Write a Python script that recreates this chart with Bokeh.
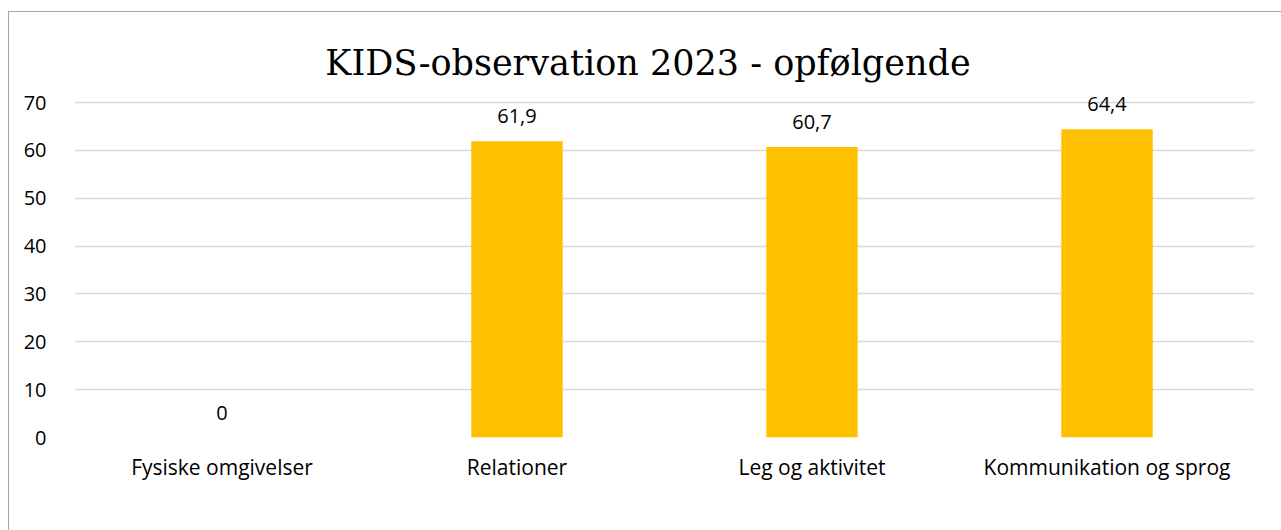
from bokeh.plotting import figure
from bokeh.models import ColumnDataSource, LabelSet, Label, Range1d
from bokeh.core.properties import value
from bokeh.embed import file_html
from bokeh.resources import INLINE

title_text = "KIDS-observation 2023 - opfølgende"
categories = ["Fysiske omgivelser", "Relationer", "Leg og aktivitet", "Kommunikation og sprog"]
values = [0, 61.9, 60.7, 64.4]
value_labels = ["0", "61,9", "60,7", "64,4"]
y_ticks = [0, 10, 20, 30, 40, 50, 60, 70]

source = ColumnDataSource(data=dict(cat=categories, val=values, lab=value_labels))

# frame: 421 px tall, 70 units = 335 px -> extend range so labels/title fit inside
y_top = 421 * 70 / 335

p = figure(
    x_range=categories,
    y_range=Range1d(0, y_top),
    width=1273,
    height=519,
    output_backend="svg",
    toolbar_location=None,
    min_border_left=65,
    min_border_right=28,
    min_border_top=4,
    min_border_bottom=94,
    margin=(11, 0, 0, 8),
)
p.styles = {"border-top": "1px solid #a6a6a6", "border-left": "1px solid #a6a6a6"}

p.vbar(x="cat", top="val", width=0.31, source=source, fill_color="#FFC000", line_color=None)

labels = LabelSet(x="cat", y="val", text="lab", source=source, y_offset=25,
                  text_align="center", text_baseline="middle",
                  text_font=value("Open Sans"), text_font_size=value("20px"), text_color="#000000")
p.add_layout(labels)

title = Label(x=1.944, y=78.15, text=title_text, text_align="center", text_baseline="middle",
              text_font="DejaVu Serif", text_font_size="35px", text_color="#000000")
p.add_layout(title)

p.outline_line_color = None
p.xgrid.grid_line_color = None
p.ygrid.grid_line_color = "#d9d9d9"
p.ygrid.grid_line_width = 1.5
p.yaxis.ticker = y_ticks
for ax in (p.xaxis[0], p.yaxis[0]):
    ax.axis_line_color = None
    ax.major_tick_line_color = None
    ax.minor_tick_line_color = None
    ax.major_label_text_font = "Open Sans"
    ax.major_label_text_color = "#000000"
p.yaxis.major_label_text_font_size = "20px"
p.xaxis.major_label_text_font_size = "21px"
p.yaxis.major_label_standoff = 22
p.xaxis.major_label_standoff = 9

open("out.html", "w").write(file_html(p, INLINE))
